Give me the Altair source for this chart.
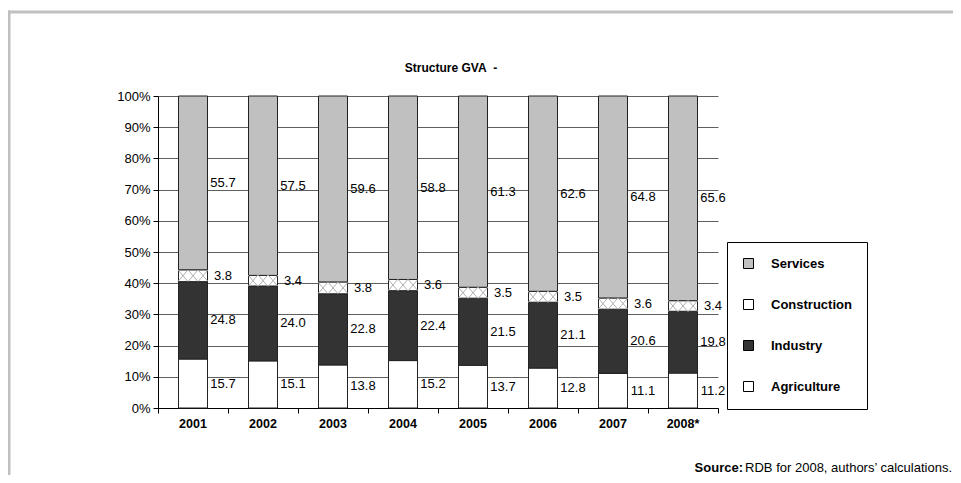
import altair as alt
import pandas as pd

years = ["2001", "2002", "2003", "2004", "2005", "2006", "2007", "2008*"]
agriculture = [15.7, 15.1, 13.8, 15.2, 13.7, 12.8, 11.1, 11.2]
industry = [24.8, 24.0, 22.8, 22.4, 21.5, 21.1, 20.6, 19.8]
construction = [3.8, 3.4, 3.8, 3.6, 3.5, 3.5, 3.6, 3.4]
services = [55.7, 57.5, 59.6, 58.8, 61.3, 62.6, 64.8, 65.6]
series = ["Agriculture", "Industry", "Construction", "Services"]
legend_order = ["Services", "Construction", "Industry", "Agriculture"]
colors = ["#c0c0c0", "#ffffff", "#333333", "#ffffff"]
title_text = "Structure GVA\u00a0 -"
source_bold = "Source:"
source_text = "RDB for 2008, authors\u2019 calculations."

values = {"Agriculture": agriculture, "Industry": industry,
          "Construction": construction, "Services": services}
rows = []
for i, yr in enumerate(years):
    total = sum(values[s][i] for s in series)
    cum = 0.0
    for s in series:
        v = values[s][i]
        y0 = cum / total
        y1 = (cum + v) / total
        rows.append({"year": yr, "series": s, "value": v, "y0": y0, "y1": y1,
                     "mid": (y0 + y1) / 2, "label": f"{v:.1f}"})
        cum += v
df = pd.DataFrame(rows)
df_c = df[df["series"] == "Construction"]

FONT = "Liberation Sans, Arial, sans-serif"
HATCH = ("M-2.65,-1L-0.95,1M-0.95,-1L-2.65,1"
         "M-0.85,-1L0.85,1M0.85,-1L-0.85,1"
         "M0.95,-1L2.65,1M2.65,-1L0.95,1")

x_axis = alt.Axis(labelFontSize=12.5, labelFontWeight="bold", labelColor="black",
                  labelAngle=0, tickSize=5, tickColor="black", domainColor="black",
                  bandPosition=1, tickExtra=True, grid=False, labelPadding=4)
y_axis = alt.Axis(format=".0%", tickCount=10, labelFontSize=13, tickSize=5,
                  grid=True, gridColor="#606060", domainColor="black",
                  tickColor="black", labelColor="black", labelPadding=3,
                  labelOverlap=False)
x_scale = alt.Scale(paddingInner=0, paddingOuter=0)
y_scale = alt.Scale(domain=[0, 1], nice=False)


def X():
    return alt.X("year:N", sort=years, title=None, scale=x_scale, axis=x_axis)


def Y(field):
    return alt.Y(field, title=None, scale=y_scale, axis=y_axis)


bars = alt.Chart(df).mark_bar(size=29, stroke="#222222", strokeWidth=1).encode(
    x=X(),
    y=Y("y0:Q"),
    y2="y1:Q",
    color=alt.Color("series:N",
                    scale=alt.Scale(domain=legend_order, range=colors),
                    legend=alt.Legend(orient="none", legendX=569, legendY=146, title=None,
                                      symbolType="square", symbolSize=100,
                                      symbolStrokeColor="black", symbolStrokeWidth=1,
                                      symbolOpacity=1,
                                      labelFontSize=13, labelFontWeight="bold",
                                      labelColor="black", labelOffset=16,
                                      rowPadding=26, padding=15,
                                      strokeColor="black", fillColor="white")),
)

hatch = alt.Chart(df_c).mark_point(shape=HATCH, size=125, filled=False, stroke="#b0b0b0",
                                   strokeWidth=1, opacity=1).encode(
    x=X(), y=Y("mid:Q"))

labels = alt.Chart(df).mark_text(dx=30, align="center", baseline="middle",
                                 fontSize=13, color="black").encode(
    x=X(), y=Y("mid:Q"), text="label:N")

one = pd.DataFrame({"a": [0]})
frame_top = alt.Chart(one).mark_rule(color="#c0c0c0", strokeWidth=3).encode(
    x=alt.value(-151), x2=alt.value(800), y=alt.value(-84))
frame_left = alt.Chart(one).mark_rule(color="#c0c0c0", strokeWidth=3).encode(
    x=alt.value(-149), y=alt.value(-85.5), y2=alt.value(390))

title = alt.Chart(pd.DataFrame({"t": [title_text]})).mark_text(
    align="center", baseline="middle", fontSize=12, fontWeight="bold",
    color="black").encode(x=alt.value(293), y=alt.value(-28.5), text="t:N")

src1 = alt.Chart(pd.DataFrame({"t": [source_bold]})).mark_text(
    align="right", baseline="middle", fontSize=13, fontWeight="bold",
    color="black").encode(x=alt.value(585), y=alt.value(372), text="t:N")
src2 = alt.Chart(pd.DataFrame({"t": [source_text]})).mark_text(
    align="right", baseline="middle", fontSize=13,
    color="black").encode(x=alt.value(794), y=alt.value(372), text="t:N")

chart = alt.layer(frame_top, frame_left, bars, hatch, labels, title, src1, src2).properties(
    width=560, height=312,
    padding={"left": 150, "top": 88, "right": 235, "bottom": 67},
    autosize=alt.AutoSizeParams(type="none"),
).configure(font=FONT).configure_view(stroke="transparent")

chart.save("out.html", embed_options={"renderer": "svg", "actions": False})
